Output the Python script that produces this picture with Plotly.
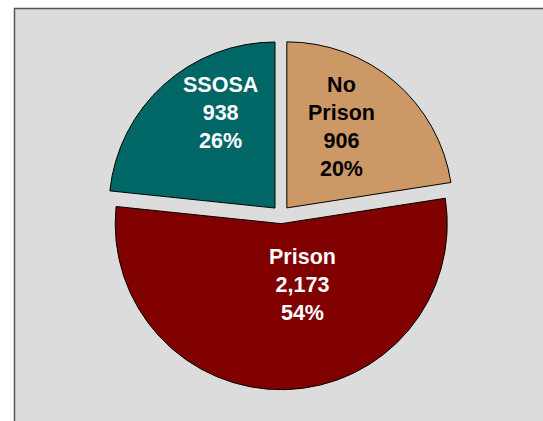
import plotly.graph_objects as go

categories = ["No Prison", "Prison", "SSOSA"]
counts = [906, 2173, 938]
count_labels = ["906", "2,173", "938"]
pct_labels = ["20%", "54%", "26%"]
label_lines = ["No<br>Prison", "Prison", "SSOSA"]

colors = ["#CC9966", "#800000", "#006666"]
text_colors = ["#000000", "#FFFFFF", "#FFFFFF"]

W, H = 543, 421
cx, cy = 281, 214.7
half_h = 175
half_w = 200

# label anchor points (pixels) inside each slice
label_px = [(341, 127), (302.5, 284.5), (220, 112.5)]

fig = go.Figure(go.Pie(
    labels=categories,
    values=counts,
    textinfo="none",
    marker=dict(colors=colors, line=dict(color="#000000", width=1)),
    pull=[0.054, 0.054, 0.054],
    sort=False,
    direction="clockwise",
    rotation=0,
    hoverinfo="none",
    showlegend=False,
    domain=dict(x=[(cx - half_w) / W, (cx + half_w) / W],
                y=[(H - cy - half_h) / H, (H - cy + half_h) / H]),
))

for lab, c, p, col, (px, py) in zip(label_lines, count_labels, pct_labels, text_colors, label_px):
    txt = "<br>".join(f"<b>{s}</b>" for s in f"{lab}<br>{c}<br>{p}".split("<br>"))
    fig.add_annotation(
        text=txt, x=px / W, y=1 - py / H, xref="paper", yref="paper",
        xanchor="center", yanchor="middle", showarrow=False, align="center",
        font=dict(family="Liberation Sans, Arial, sans-serif", size=21.5, color=col),
    )

fig.update_layout(
    width=W, height=H,
    margin=dict(l=0, r=0, t=0, b=0),
    paper_bgcolor="#FFFFFF",
    font=dict(family="Liberation Sans, Arial, sans-serif"),
    shapes=[dict(type="rect", xref="paper", yref="paper", layer="below",
                 x0=14.5 / W, x1=1.05, y0=-0.05, y1=1 - 8.5 / H,
                 fillcolor="#DCDCDC", line=dict(color="#555555", width=1.5))],
)

fig.write_html("out.html")
